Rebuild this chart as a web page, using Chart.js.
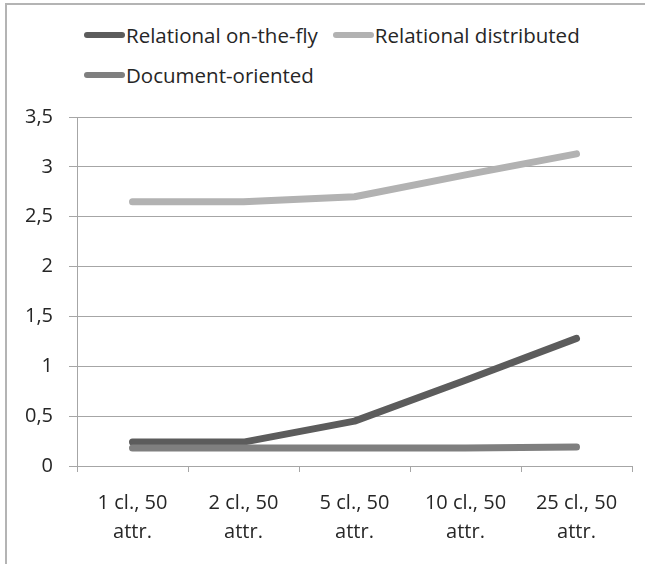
<!DOCTYPE html>
<html>
<head>
<meta charset="utf-8">
<script src="https://cdn.jsdelivr.net/npm/chart.js@4"></script>
<style>
  html, body { margin: 0; padding: 0; background: #fff; }
  #wrap { position: relative; width: 645px; height: 564px; overflow: hidden; }
  #frame { position: absolute; left: 5px; top: 3px; right: -5px; bottom: -5px;
           border-top: 2px solid #b4b4b4; border-left: 2px solid #b4b4b4; }
  #legend { position: absolute; left: 84px; top: 22px; width: 540px;
            display: flex; flex-wrap: wrap; row-gap: 14px; column-gap: 15px;
            font-family: "Open Sans", sans-serif; font-size: 20.5px; color: #262626; }
  .item { display: flex; align-items: center; height: 26px; }
  .swatch { width: 41px; height: 6px; border-radius: 3px; margin-right: 1px; }
  canvas { position: absolute; left: 0; top: 0; }
</style>
</head>
<body>
<div id="wrap">
  <div id="frame"></div>
  <div id="legend"></div>
  <canvas id="chart" width="645" height="564"></canvas>
</div>
<script>
const categories = [
    ['1 cl., 50', 'attr.'],
    ['2 cl., 50', 'attr.'],
    ['5 cl., 50', 'attr.'],
    ['10 cl., 50', 'attr.'],
    ['25 cl., 50', 'attr.']
];
const seriesNames = ['Relational on-the-fly', 'Relational distributed', 'Document-oriented'];
const onTheFly = [0.24, 0.24, 0.45, 0.86, 1.28];
const distributed = [2.65, 2.65, 2.70, 2.92, 3.13];
const documentOriented = [0.18, 0.18, 0.18, 0.18, 0.19];
const yMax = 3.5;
const yStep = 0.5;

const colors = ['#5c5c5c', '#b2b2b2', '#7f7f7f'];
const values = [onTheFly, distributed, documentOriented];

const font = "'Open Sans', sans-serif";

const ctx = document.getElementById('chart').getContext('2d');
const chart = new Chart(ctx, {
    type: 'line',
    data: {
        labels: categories,
        datasets: values.map((v, i) => ({
            label: seriesNames[i],
            data: v,
            borderColor: colors[i],
            backgroundColor: colors[i],
            borderWidth: 7,
            borderCapStyle: 'round',
            borderJoinStyle: 'round',
            pointRadius: 0,
            pointHoverRadius: 0,
            tension: 0,
            order: 3 - i,
        })),
    },
    options: {
        responsive: false,
        animation: false,
        plugins: {
            legend: { display: false },
            tooltip: { enabled: false },
        },
        layout: {
            padding: { top: 117, right: 13, bottom: 0, left: 0 },
        },
        scales: {
            x: {
                offset: true,
                grid: {
                    offset: true,
                    drawOnChartArea: false,
                    tickLength: 6,
                    color: '#a6a6a6',
                },
                border: { color: '#a6a6a6', width: 1 },
                ticks: {
                    padding: 17,
                    color: '#262626',
                    maxRotation: 0,
                    font: { size: 20, family: font, lineHeight: 1.45 },
                },
                afterFit: (scale) => { scale.height = 98; },
            },
            y: {
                min: 0,
                max: yMax,
                grid: {
                    color: '#a6a6a6',
                    tickLength: 8,
                },
                border: { color: '#a6a6a6', width: 1 },
                ticks: {
                    stepSize: yStep,
                    padding: 16,
                    color: '#262626',
                    font: { size: 20, family: font },
                    callback: (v) => String(v).replace('.', ','),
                },
                afterFit: (scale) => { scale.width = 77; },
            },
        },
    },
});

// legend built from the chart's datasets
const legend = document.getElementById('legend');
chart.data.datasets.forEach((ds) => {
    const item = document.createElement('div');
    item.className = 'item';
    const sw = document.createElement('span');
    sw.className = 'swatch';
    sw.style.background = ds.borderColor;
    const txt = document.createElement('span');
    txt.textContent = ds.label;
    item.appendChild(sw);
    item.appendChild(txt);
    legend.appendChild(item);
});
</script>
</body>
</html>
